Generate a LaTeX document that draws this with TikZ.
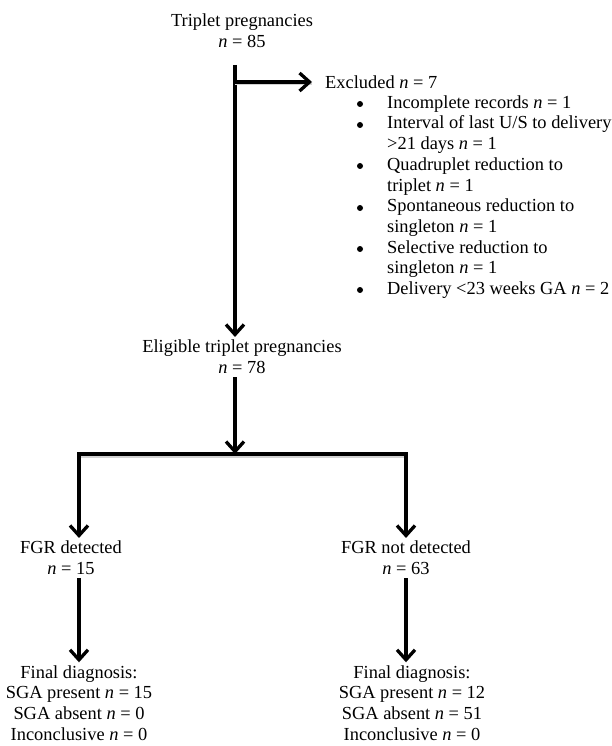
\documentclass[tikz,border=0pt]{standalone}
\usepackage{fontspec}
\setmainfont{Liberation Serif}
\usetikzlibrary{arrows.meta}
\begin{document}
\begin{tikzpicture}[x=1pt, y=-1pt,
  every node/.style={align=center, inner sep=3pt, font=\fontsize{18.4}{20.7}\selectfont},
  flow/.style={line width=3.3pt, -{Straight Barb[length=10pt, width=18pt]}},
  bar/.style={line width=3.3pt, preaction={draw=gray!35, -, line width=2pt, transform canvas={yshift=-2.5pt}}},
  dot/.style={circle, fill, inner sep=0pt, minimum size=6pt}]
\useasboundingbox (0,0) rectangle (611,746);

\node (triplets) at (242,31) {Triplet pregnancies\\ \textit{n} = 85};
\coordinate (spine) at (235,65);
\coordinate (branch) at (235,82);
\node[anchor=west] (excluded) at (322,82) {Excluded \textit{n} = 7};
\node[align=left, anchor=west] (reasons) at (384,197) {Incomplete records \textit{n} = 1\\
  Interval of last U/S to delivery\\
  >21 days \textit{n} = 1\\
  Quadruplet reduction to\\
  triplet \textit{n} = 1\\
  Spontaneous reduction to\\
  singleton \textit{n} = 1\\
  Selective reduction to\\
  singleton \textit{n} = 1\\
  Delivery <23 weeks GA \textit{n} = 2};
\foreach \y in {104,125,166,208,249,290}
  \node[dot] at (360,\y) {};

\node (eligible) at (242,357) {Eligible triplet pregnancies\\ \textit{n} = 78};
\coordinate (fork) at (235,454);
\coordinate (forkL) at (79,454);
\coordinate (forkR) at (406,454);

\node (fgryes) at (71,558) {FGR detected\\ \textit{n} = 15};
\node (fgrno) at (406,558) {FGR not detected\\ \textit{n} = 63};
\node (finalyes) at (79,703) {Final diagnosis:\\ SGA present \textit{n} = 15\\ SGA absent \textit{n} = 0\\ Inconclusive \textit{n} = 0};
\node (finalno) at (412,703) {Final diagnosis:\\ SGA present \textit{n} = 12\\ SGA absent \textit{n} = 51\\ Inconclusive \textit{n} = 0};

\draw[flow] (spine) -- (eligible.north -| spine);
\draw[bar, flow, shorten >=10pt] (branch) -- (excluded.west);
\draw[flow] (eligible.south -| spine) -- (fork);
\draw[bar, line cap=rect] (forkL) -- (forkR);
\draw[flow] (forkL) -- (fgryes.north -| forkL);
\draw[flow] (forkR) -- (fgrno.north);
\draw[flow] (fgryes.south -| forkL) -- (finalyes.north);
\draw[flow] (fgrno.south) -- (finalno.north -| fgrno);
\end{tikzpicture}
\end{document}
